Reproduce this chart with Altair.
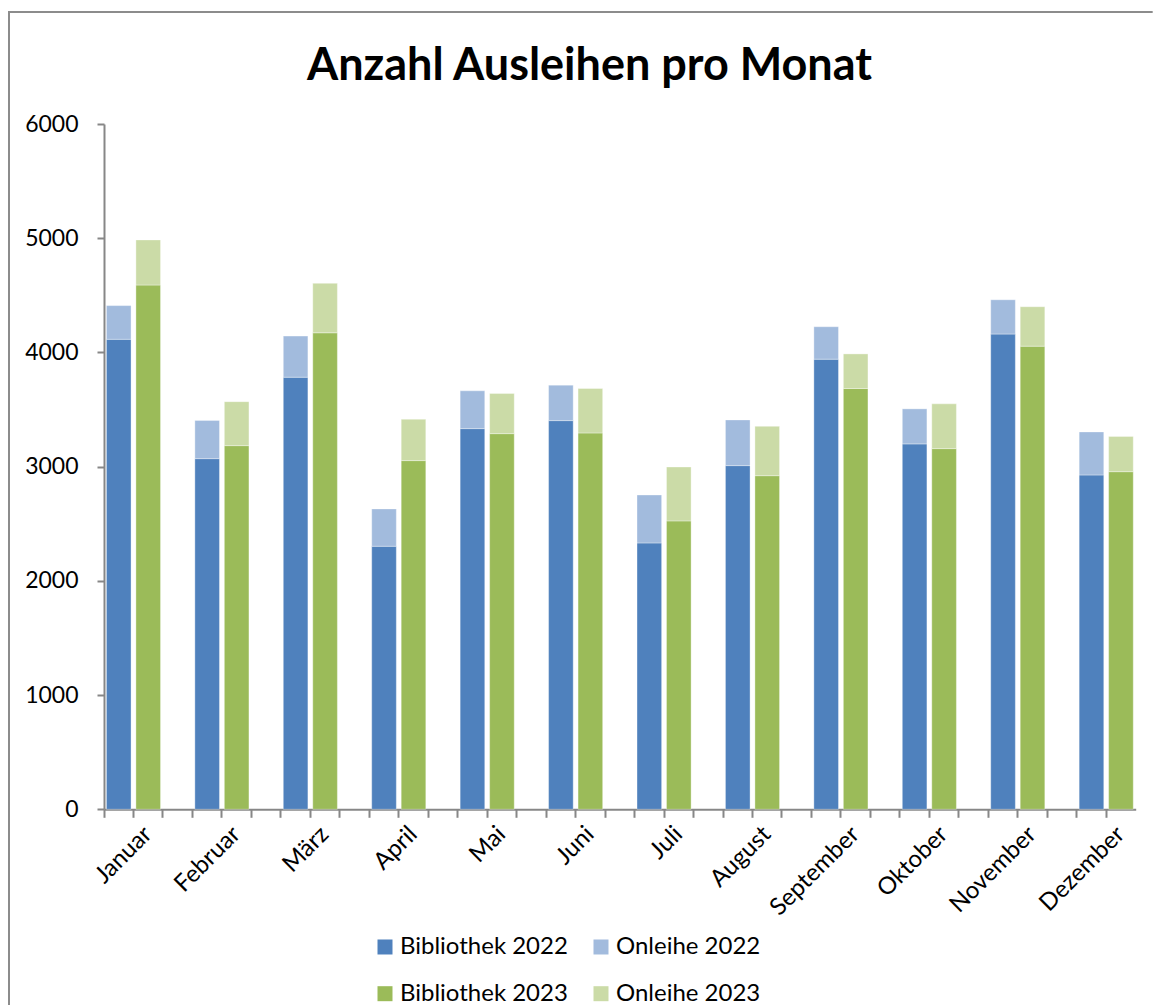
import altair as alt
import pandas as pd

months = ["Januar", "Februar", "März", "April", "Mai", "Juni", "Juli",
          "August", "September", "Oktober", "November", "Dezember"]
bibliothek_2022 = [4115, 3070, 3783, 2303, 3333, 3403, 2332, 3009, 3941, 3199, 4161, 2927]
onleihe_2022 = [295, 335, 360, 327, 331, 310, 420, 400, 284, 307, 300, 377]
bibliothek_2023 = [4590, 3184, 4172, 3053, 3289, 3295, 2525, 2921, 3684, 3158, 4055, 2956]
onleihe_2023 = [395, 385, 433, 362, 351, 389, 472, 432, 303, 392, 345, 309]

title_text = "Anzahl Ausleihen pro Monat"
series_names = ["Bibliothek 2022", "Onleihe 2022", "Bibliothek 2023", "Onleihe 2023"]
series_colors = ["#4F81BD", "#A2BBDD", "#9BBB59", "#CBDBA7"]
y_ticks = [0, 1000, 2000, 3000, 4000, 5000, 6000]

rows = []
slot_domain = []
for i, m in enumerate(months):
    rows.append(dict(slot=f"{m}|2022", series="Bibliothek 2022", layer=0, value=bibliothek_2022[i]))
    rows.append(dict(slot=f"{m}|2022", series="Onleihe 2022", layer=1, value=onleihe_2022[i]))
    rows.append(dict(slot=f"{m}|2023", series="Bibliothek 2023", layer=0, value=bibliothek_2023[i]))
    rows.append(dict(slot=f"{m}|2023", series="Onleihe 2023", layer=1, value=onleihe_2023[i]))
    slot_domain += [f"{m}|2022", f"{m}|2023"]
    if i < len(months) - 1:
        slot_domain.append(f"{m}|-")
df = pd.DataFrame(rows)

W = 1031.7
H = 685.3
FONT = "Lato"
AXC = "#878787"
PAD_R = 17

bars = alt.Chart(df).mark_bar(
    width=alt.RelativeBandSize(0.835),
    stroke="#ffffff", strokeOpacity=0.35, strokeWidth=1
).encode(
    x=alt.X("slot:N",
            scale=alt.Scale(domain=slot_domain, paddingInner=0, paddingOuter=0),
            axis=alt.Axis(title=None, bandPosition=0,
                          labelExpr="indexof(datum.value, '|2023') > 0 ? split(datum.value, '|')[0] : ''",
                          labelAngle=-45, labelAlign="right", labelBaseline="middle",
                          labelPadding=13,
                          tickSize=8, tickColor=AXC, tickWidth=2,
                          domainColor=AXC, domainWidth=2,
                          labelFont=FONT, labelFontSize=24, labelColor="black",
                          labelOverlap=False, labelBound=False, grid=False)),
    y=alt.Y("value:Q", stack="zero",
            scale=alt.Scale(domain=[0, 6000], nice=False),
            axis=alt.Axis(title=None, values=y_ticks, grid=False, format="d",
                          tickSize=7, tickColor=AXC, tickWidth=2,
                          domainColor=AXC, domainWidth=2,
                          labelPadding=19, labelFont=FONT, labelFontSize=23,
                          labelColor="black")),
    color=alt.Color("series:N",
                    scale=alt.Scale(domain=series_names, range=series_colors),
                    legend=alt.Legend(title=None, orient="none", legendX=269, legendY=811,
                                      columns=2, direction="horizontal",
                                      symbolType="square", symbolSize=225,
                                      symbolStrokeWidth=0, labelFont=FONT,
                                      labelFontSize=24, labelColor="black",
                                      labelLimit=400,
                                      columnPadding=21, rowPadding=22.7, labelOffset=3)),
    order=alt.Order("layer:Q", sort="ascending"),
)

frame_left = alt.Chart(alt.Data(values=[{}])).mark_rule(
    stroke="#8c8c8c", strokeWidth=2
).encode(
    x=alt.value(-95), y=alt.value(-112), y2=alt.value(H + 200)
)
frame_top = alt.Chart(alt.Data(values=[{}])).mark_rule(
    stroke="#8c8c8c", strokeWidth=2
).encode(
    x=alt.value(-96), x2=alt.value(W + PAD_R), y=alt.value(-112)
)

title = alt.Chart(alt.Data(values=[{"t": title_text}])).mark_text(
    font=FONT, fontSize=45, fontWeight="bold", color="black",
    align="center", baseline="alphabetic"
).encode(
    text="t:N", x=alt.value(485.5), y=alt.value(-44.5)
)

chart = alt.layer(frame_left, frame_top, title, bars).properties(
    width=W, height=H,
    autosize=alt.AutoSizeParams(type="none"),
    padding={"left": 96, "top": 116, "right": PAD_R, "bottom": 196},
).configure_view(stroke=None)

chart.save("out.html", embed_options={"renderer": "svg", "actions": False})
